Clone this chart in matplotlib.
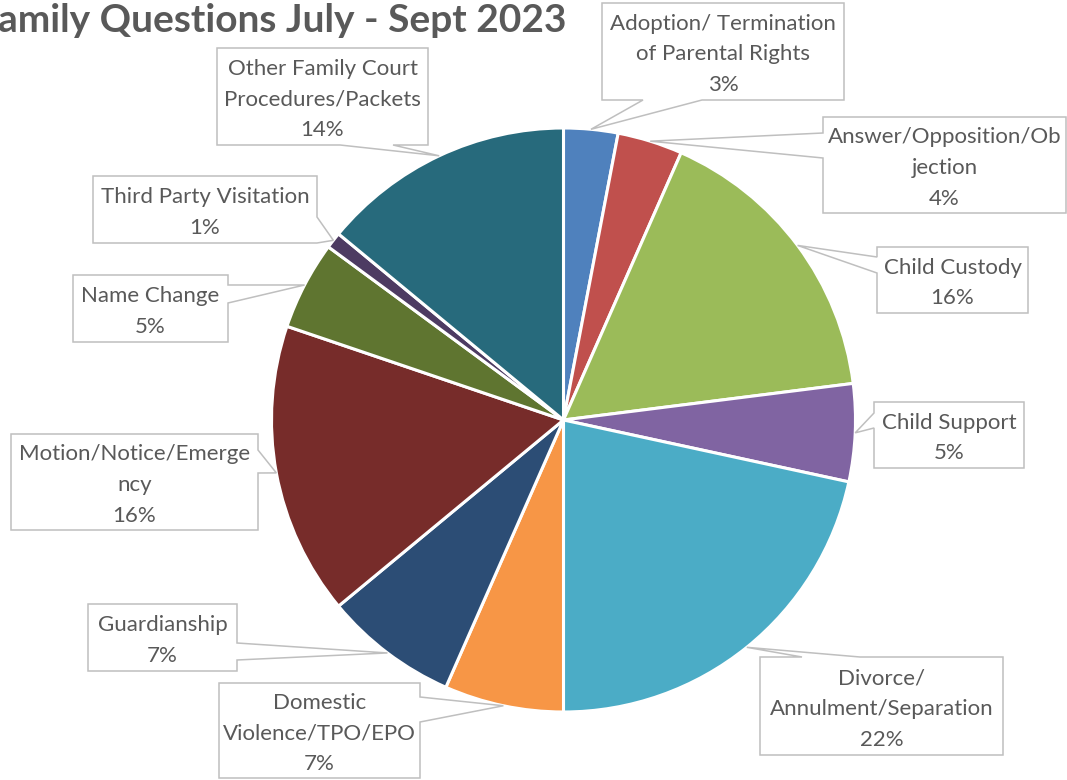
import numpy as np
import matplotlib.pyplot as plt
from matplotlib.patches import Polygon

plt.rcParams['font.family'] = ['Lato', 'DejaVu Sans']

# categories as they appear in the callouts (already wrapped)
categorias = [
    "Adoption/ Termination\nof Parental Rights",
    "Answer/Opposition/Ob\njection",
    "Child Custody",
    "Child Support",
    "Divorce/\nAnnulment/Separation",
    "Domestic\nViolence/TPO/EPO",
    "Guardianship",
    "Motion/Notice/Emerge\nncy",
    "Name Change",
    "Third Party Visitation",
    "Other Family Court\nProcedures/Packets",
]
porcentajes = [3.0, 3.6, 16.4, 5.4, 21.6, 6.6, 7.4, 16.2, 4.9, 0.9, 14.0]

colores = ["#4F81BD", "#C0504D", "#9BBB59", "#8064A2", "#4BACC6", "#F79646",
           "#2C4D75", "#772C2A", "#5F7530", "#4D3B62", "#276A7C"]

# callout boxes in pixels (x0, y0, x1, y1, measured from the top),
# side where the pointer leaves the box and the span of its base
cajas = [
    (602, 3, 844, 100, "bottom", (643, 702)),
    (823, 117, 1066, 213, "left", (133, 158)),
    (877, 247, 1028, 313, "left", (257, 273)),
    (874, 402, 1024, 468, "left", (413, 428)),
    (760, 657, 1003, 755, "top", (802, 860)),
    (219, 683, 420, 778, "right", (697, 722)),
    (88, 604, 237, 671, "right", (643, 660)),
    (11, 434, 258, 530, "right", (450, 473)),
    (73, 275, 228, 342, "right", (285, 303)),
    (93, 176, 317, 243, "right", (217, 243)),
    (217, 48, 428, 145, "bottom", (340, 393)),
]

W, H = 1067, 780
centro = (563.5, H - 420)
radio = 292

def fy(y):
    return H - y

fig = plt.figure(figsize=(W / 100, H / 100), dpi=100)
ax = fig.add_axes([0, 0, 1, 1])

ax.pie(porcentajes, colors=colores, startangle=90, counterclock=False,
       center=centro, radius=radio,
       wedgeprops=dict(edgecolor="white", linewidth=2.2))

total = sum(porcentajes)
acumulado = 0
for nombre, valor, caja in zip(categorias, porcentajes, cajas):
    medio = (acumulado + valor / 2) / total * 2 * np.pi
    acumulado += valor
    punta = (centro[0] + radio * np.sin(medio), centro[1] + radio * np.cos(medio))

    x0, y0, x1, y1, lado, (a, b) = caja
    tl, tr, br, bl = (x0, fy(y0)), (x1, fy(y0)), (x1, fy(y1)), (x0, fy(y1))
    if lado == "top":
        pts = [tl, (a, fy(y0)), punta, (b, fy(y0)), tr, br, bl]
    elif lado == "right":
        pts = [tl, tr, (x1, fy(a)), punta, (x1, fy(b)), br, bl]
    elif lado == "bottom":
        pts = [tl, tr, br, (b, fy(y1)), punta, (a, fy(y1)), bl]
    else:
        pts = [tl, tr, br, bl, (x0, fy(b)), punta, (x0, fy(a))]
    ax.add_patch(Polygon(pts, closed=True, facecolor="white",
                         edgecolor="#BFBFBF", linewidth=1.1, zorder=3))

    texto = f"{nombre}\n{valor / total * 100:.0f}%"
    ax.text((x0 + x1) / 2, fy((y0 + y1) / 2 + 3), texto, ha="center", va="center",
            multialignment="center", fontsize=16, color="#595959",
            linespacing=1.68, zorder=4)

ax.text(567, fy(21), "Family Questions July - Sept 2023", ha="right", va="center",
        fontsize=28, fontweight="bold", color="#595959")

ax.set_xlim(0, W)
ax.set_ylim(0, H)
ax.set_aspect("auto")
ax.axis("off")

fig.savefig("out.png", dpi=100)
